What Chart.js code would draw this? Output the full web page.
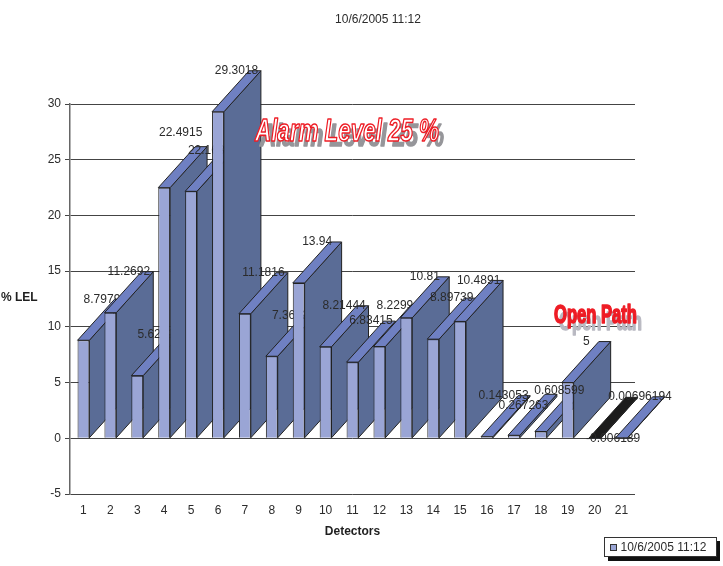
<!DOCTYPE html>
<html>
<head>
<meta charset="utf-8">
<title>Detectors</title>
<script src="https://cdn.jsdelivr.net/npm/chart.js@4"></script>
<style>
    html, body { margin: 0; background: #fff; }
    canvas { display: block; }
</style>
</head>
<body>
<canvas id="detector-canvas" width="723" height="566"></canvas>
<script>
const timestamp = '10/6/2005 11:12';
const detectors = ['1', '2', '3', '4', '5', '6', '7', '8', '9', '10', '11', '12', '13', '14', '15', '16', '17', '18', '19', '20', '21'];
const lelValues = [8.7979, 11.2692, 5.6231, 22.4915, 22.1632, 29.3018, 11.1816, 7.3632, 13.94, 8.21444, 6.83415, 8.2299, 10.81, 8.89739, 10.4891, 0.143053, 0.267263, 0.608599, 5, -0.006189, 0.00696194];
const lelLabels = ['8.7979', '11.2692', '5.6231', '22.4915', '22.1632', '29.3018', '11.1816', '7.3632', '13.94', '8.21444', '6.83415', '8.2299', '10.81', '8.89739', '10.4891', '0.143053', '0.267263', '0.608599', '5', '-0.006189', '0.00696194'];

const FONT = '"Liberation Sans", Arial, sans-serif';
const INK = '#2b2b2b';
const DEPTH_X = 37;
const DEPTH_Y = 41;
const FACE_FRONT = '#9aa5d5';
const FACE_SIDE = '#5a6c96';
const FACE_TOP = '#6f80c2';
const FACE_NEGATIVE = '#1c1c1c';

// a few labels were moved by hand so they don't sit on their neighbours
const labelNudge = { 3: [-2, -14], 11: [-3, 0], 15: [-2, 0], 16: [-9, 11], 19: [0, 41] };
// this one stays readable on top of the bar that follows it
const labelOnTop = 17;

function face(ctx, points, fill) {
    ctx.beginPath();
    points.forEach((p, i) => i ? ctx.lineTo(p[0], p[1]) : ctx.moveTo(p[0], p[1]));
    ctx.closePath();
    ctx.fillStyle = fill;
    ctx.fill();
    ctx.stroke();
}

function barLabel(ctx, bar, i) {
    const nudge = labelNudge[i] || [0, 0];
    const top = Math.min(bar.y, bar.base);
    ctx.save();
    ctx.font = '12px ' + FONT;
    ctx.fillStyle = INK;
    ctx.textAlign = 'center';
    ctx.textBaseline = 'middle';
    ctx.fillText(lelLabels[i], bar.x + DEPTH_X / 2 + nudge[0], top - DEPTH_Y + nudge[1]);
    ctx.restore();
}

// bars painted left to right with their side and top faces, so each one covers the one before
class Bar3dController extends Chart.BarController {
    draw() {
        const ctx = this.chart.ctx;
        const bars = this.getMeta().data;
        bars.forEach((bar, i) => {
            const half = bar.width / 2;
            const left = bar.x - half;
            const right = bar.x + half;
            const top = Math.min(bar.y, bar.base);
            const bottom = Math.max(bar.y, bar.base);
            ctx.save();
            ctx.lineWidth = 1;
            ctx.strokeStyle = '#222';
            face(ctx, [[right, bottom], [right + DEPTH_X, bottom - DEPTH_Y], [right + DEPTH_X, top - DEPTH_Y], [right, top]], FACE_SIDE);
            face(ctx, [[left, top], [right, top], [right + DEPTH_X, top - DEPTH_Y], [left + DEPTH_X, top - DEPTH_Y]], lelValues[i] < 0 ? FACE_NEGATIVE : FACE_TOP);
            ctx.restore();
            bar.draw(ctx);
            if (i !== labelOnTop) barLabel(ctx, bar, i);
        });
        barLabel(ctx, bars[labelOnTop], labelOnTop);
    }
}
Bar3dController.id = 'bar3d';
Bar3dController.defaults = Chart.BarController.defaults;
Bar3dController.overrides = Chart.BarController.overrides;
Chart.register(Bar3dController);

function wordArt(ctx, text, x, y, width, font, fill, stroke, shadow, shadowX, shadowY) {
    ctx.save();
    ctx.font = font;
    ctx.textBaseline = 'alphabetic';
    const squeeze = width / ctx.measureText(text).width;
    ctx.lineJoin = 'round';
    ctx.translate(x, y);
    ctx.scale(squeeze, 1);
    ctx.lineWidth = 1.6;
    ctx.fillStyle = shadow;
    ctx.strokeStyle = shadow;
    ctx.fillText(text, shadowX / squeeze, shadowY);
    ctx.strokeText(text, shadowX / squeeze, shadowY);
    ctx.fillStyle = fill;
    ctx.strokeStyle = stroke;
    ctx.fillText(text, 0, 0);
    ctx.strokeText(text, 0, 0);
    ctx.restore();
}

const chartNotes = {
    id: 'chartNotes',
    afterDraw(chart) {
        const ctx = chart.ctx;
        ctx.save();
        ctx.fillStyle = INK;
        ctx.font = '12px ' + FONT;
        ctx.textAlign = 'center';
        ctx.textBaseline = 'middle';
        ctx.fillText(timestamp, 378, 20);
        ctx.textAlign = 'left';

        ctx.fillStyle = '#1f1f1f';
        ctx.font = 'bold 12px ' + FONT;
        ctx.fillText('% LEL', 1, 298);

        // legend box with its hard drop shadow
        ctx.fillStyle = '#111';
        ctx.fillRect(608, 541, 112, 20);
        ctx.fillStyle = '#fff';
        ctx.strokeStyle = '#333';
        ctx.fillRect(604.5, 537.5, 112, 19);
        ctx.strokeRect(604.5, 537.5, 112, 19);
        ctx.fillStyle = FACE_FRONT;
        ctx.fillRect(610.5, 544.5, 6, 6);
        ctx.strokeRect(610.5, 544.5, 6, 6);
        ctx.fillStyle = INK;
        ctx.font = '12px ' + FONT;
        ctx.fillText(timestamp, 620.5, 547.5);
        ctx.restore();

        wordArt(ctx, 'Alarm Level 25 %', 255, 141, 184, 'italic bold 31px ' + FONT, '#fff', '#ee1c25', '#96969a', 5, 5);
        wordArt(ctx, 'Open Path', 554, 323, 83, 'bold 25px ' + FONT, '#ee1c25', '#ee1c25', '#b9b9c2', 5, 7);
    }
};

var ctx = document.getElementById('detector-canvas');
var chart = new Chart(ctx, {
    type: 'bar3d',
    data: {
        labels: detectors,
        datasets: [{
            label: timestamp,
            data: lelValues,
            backgroundColor: FACE_FRONT,
            borderColor: '#222',
            borderWidth: 1,
            barPercentage: 0.44,
            categoryPercentage: 1,
            clip: false
        }]
    },
    plugins: [chartNotes],
    options: {
        responsive: false,
        animation: false,
        layout: { padding: { right: 88, top: 104 } },
        plugins: {
            legend: { display: false },
            tooltip: { enabled: false }
        },
        scales: {
            x: {
                grid: { display: false },
                border: { display: false },
                ticks: { color: INK, font: { family: FONT, size: 12 }, padding: 1, maxRotation: 0, autoSkip: false },
                title: {
                    display: true,
                    text: 'Detectors',
                    color: '#1f1f1f',
                    font: { family: FONT, size: 12, weight: 'bold' },
                    padding: { top: 9, bottom: 27 }
                },
                afterFit(scale) { scale.height = 72; }
            },
            y: {
                min: -5,
                max: 30,
                grid: { color: '#444', tickLength: 5 },
                border: { color: '#666', width: 1.5 },
                ticks: { stepSize: 5, color: INK, font: { family: FONT, size: 12 }, padding: 4 },
                afterFit(scale) { scale.width = 70; }
            }
        }
    }
});
</script>
</body>
</html>
